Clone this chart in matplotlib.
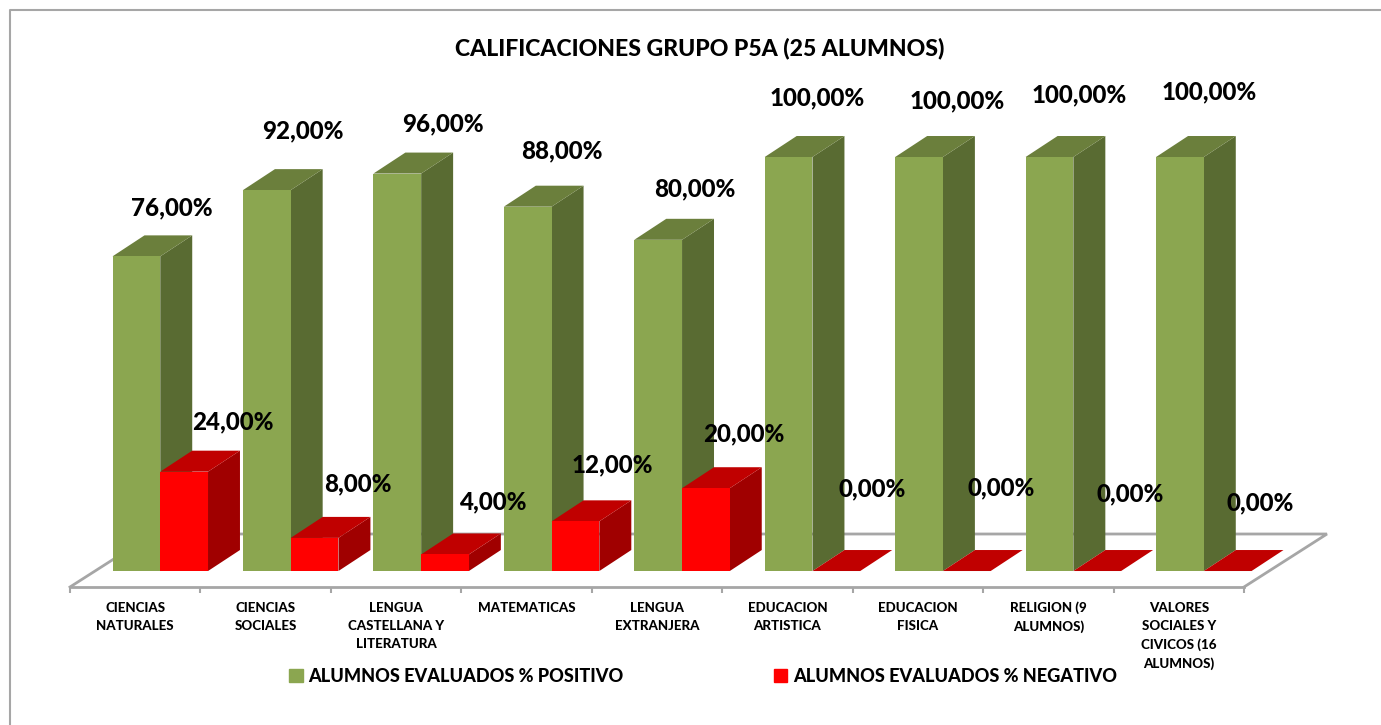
#!/usr/bin/env python3

import numpy as np
import matplotlib
matplotlib.use("Agg")
import matplotlib.pyplot as plt
from matplotlib.lines import Line2D
from matplotlib.patches import Patch

categories = [
    "CIENCIAS\nNATURALES",
    "CIENCIAS\nSOCIALES",
    "LENGUA\nCASTELLANA Y\nLITERATURA",
    "MATEMATICAS",
    "LENGUA\nEXTRANJERA",
    "EDUCACION\nARTISTICA",
    "EDUCACION\nFISICA",
    "RELIGION (9\nALUMNOS)",
    "VALORES\nSOCIALES Y\nCIVICOS (16\nALUMNOS)",
]
positivo = [76, 92, 96, 88, 80, 100, 100, 100, 100]
negativo = [24, 8, 4, 12, 20, 0, 0, 0, 0]

# label offsets from the top of each bar, pixels (they are hand placed in the original)
pos_off = [(35, 49), (36, 59), (46, 50), (34, 56), (37, 51), (29, 59), (38, 56), (30, 62), (29, 65)]
neg_off = [(49, 50), (43, 54), (49, 53), (37, 56), (38, 54), (36, 82), (34, 83), (33, 77), (32, 68)]

GREEN = ("#8BA650", "#6B7F3C", "#596B32")
RED = ("#FF0000", "#C00000", "#A00000")
GREY = "#A6A6A6"

W, H = 1381, 725
FONT = "Lato"
HEAVY = 900
plt.rcParams["font.family"] = FONT

fig = plt.figure(figsize=(W / 100, H / 100), dpi=100)
ax = fig.add_axes([70 / W, (H - 587) / H, 1174 / W, 430 / H])
ax.set_xlim(0, 9)
ax.set_ylim(-3.86, 100)

# 3d look: sizes in axis units
bar_w = 0.366
shift = 0.192
dx = 0.245
dy = 5.07
floor_dx = 0.636
floor_dy = 12.8


def bar3d(x0, v, cols, z):
    x1 = x0 + bar_w
    ax.fill([x1, x1 + dx, x1 + dx, x1], [0, dy, v + dy, v], color=cols[2], lw=0, zorder=z, clip_on=False)
    ax.fill([x0, x0 + dx, x1 + dx, x1], [v, v + dy, v + dy, v], color=cols[1], lw=0, zorder=z, clip_on=False)
    ax.bar(x0, v, width=bar_w, align="edge", color=cols[0], lw=0, zorder=z, clip_on=False)


# floor
floor_y = ax.get_ylim()[0]
floor_x = [0, floor_dx, 9 + floor_dx, 9]
floor_v = [floor_y, floor_y + floor_dy, floor_y + floor_dy, floor_y]
ax.plot(floor_x, floor_v, color=GREY, lw=2, zorder=1, clip_on=False, solid_joinstyle="miter")

for i in range(len(categories)):
    mid = i + 0.5 + shift
    bar3d(mid - bar_w, positivo[i], GREEN, 2 + i)
    bar3d(mid, negativo[i], RED, 2.5 + i)
    ax.annotate(f"{positivo[i]:.2f}%".replace(".", ","), (mid - bar_w / 2, positivo[i]),
                xytext=pos_off[i], textcoords="offset pixels", ha="center", va="center",
                fontsize=17.4, fontweight=HEAVY, zorder=20, annotation_clip=False)
    ax.annotate(f"{negativo[i]:.2f}%".replace(".", ","), (mid + bar_w / 2, negativo[i]),
                xytext=neg_off[i], textcoords="offset pixels", ha="center", va="center",
                fontsize=17.4, fontweight=HEAVY, zorder=20, annotation_clip=False)

for s in ["top", "left", "right"]:
    ax.spines[s].set_visible(False)
ax.spines["bottom"].set_color(GREY)
ax.spines["bottom"].set_linewidth(2)
ax.patch.set_visible(False)

ax.set_yticks([])
ax.set_xticks(np.arange(10))
ax.set_xticklabels([])
ax.tick_params(axis="x", which="major", length=4, width=1.5, color=GREY)
ax.set_xticks(np.arange(9) + 0.5, minor=True)
ax.set_xticklabels(categories, minor=True, fontsize=9.6, fontweight=HEAVY, linespacing=1.6, va="top")
ax.tick_params(axis="x", which="minor", length=0, pad=10.5)

fig.text(700 / W, 1 - 48 / H, "CALIFICACIONES GRUPO P5A (25 ALUMNOS)", ha="center", va="center",
         fontsize=16.6, fontweight=HEAVY)

handles = [Patch(color=GREEN[0]), Patch(color=RED[0])]
labels = ["ALUMNOS EVALUADOS % POSITIVO", "ALUMNOS EVALUADOS % NEGATIVO"]
fig.legend(handles, labels, ncol=2, frameon=False, loc="center", bbox_to_anchor=(703 / W, 1 - 676 / H),
           prop={"size": 13.05, "weight": HEAVY}, handlelength=0.75, handleheight=0.75,
           handletextpad=0.3, columnspacing=8.3, borderpad=0)

# chart frame
fig.add_artist(Line2D([9.5 / W, 9.5 / W, 1], [0, 1 - 9.5 / H, 1 - 9.5 / H], color=GREY, lw=1.5))

fig.savefig("out.png", dpi=100)
